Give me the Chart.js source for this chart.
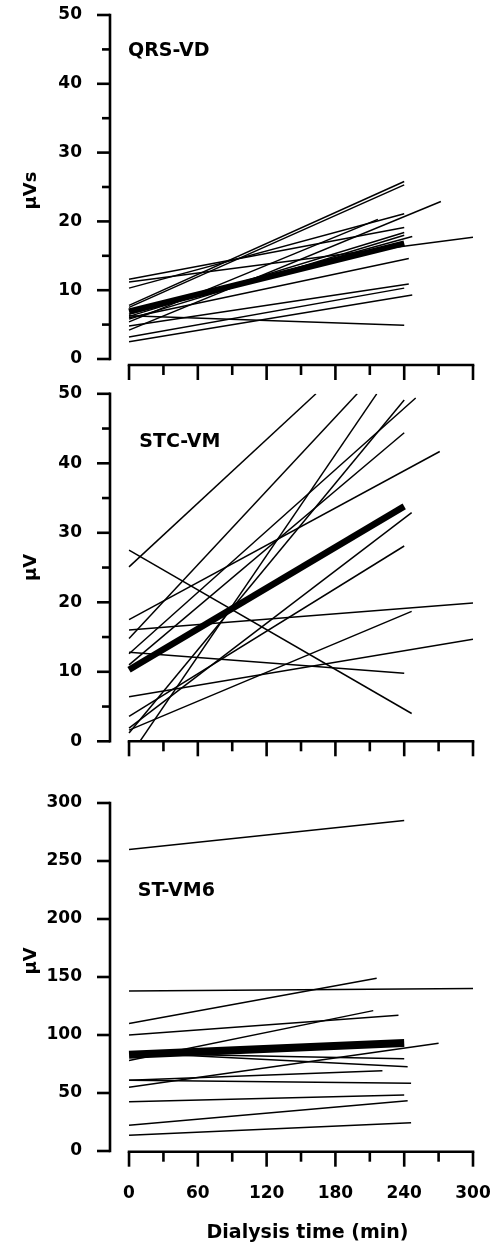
<!DOCTYPE html>
<html>
<head>
<meta charset="utf-8">
<script src="https://cdn.jsdelivr.net/npm/chart.js@4"></script>
<style>
html,body{margin:0;padding:0;background:#fff;width:497px;height:1244px;overflow:hidden;position:relative}
canvas{position:absolute;left:0}
</style>
</head>
<body>
<canvas id="c1" width="497" height="392" style="top:0px"></canvas>
<canvas id="c2" width="497" height="400" style="top:370px"></canvas>
<canvas id="c3" width="497" height="464" style="top:780px"></canvas>
<script>
// ---------- data ----------
const xTickValues = [0, 60, 120, 180, 240, 300];
const meanTimes = [0, 240];

// QRS-VD (µVs)
const qrsTicks = [0, 10, 20, 30, 40, 50];
const qrsStart   = [7.8, 7.5, 4.2, 5.4, 11.6, 11.2, 10.3, 6.2, 5.8, 6.5, 6.0, 4.8, 3.2, 2.5, 6.3];
const qrsEndTime = [240, 240, 272, 217, 240, 300, 240, 240, 240, 247, 244, 244, 240, 247, 240];
const qrsEnd     = [25.8, 25.3, 22.9, 20.3, 19.1, 17.7, 21.1, 18.4, 18.0, 17.8, 14.6, 10.9, 10.3, 9.3, 4.9];
const qrsMean    = [6.9, 16.8];

// STC-VM (µV)
const stcTicks = [0, 10, 20, 30, 40, 50];
const stcStart   = [27.5, 25.1, 17.5, 16.0, 14.8, 12.8, 12.6, 11.0, 6.4, 3.6, 1.6, 1.9, 1.2, -2.3];
const stcEndTime = [246.5, 163, 271, 300, 199, 240, 250, 240, 300, 240, 246.5, 246.5, 240, 216];
const stcEnd     = [4.0, 50, 41.7, 19.9, 50, 9.8, 49.4, 44.4, 14.7, 28.1, 18.7, 32.9, 49.1, 50];
const stcMean    = [10.3, 33.8];

// ST-VM6 (µV)
const stTicks = [0, 50, 100, 150, 200, 250, 300];
const stStart   = [260, 138, 110, 100, 78, 84, 85, 55, 61, 61, 42.5, 22.2, 13.5];
const stEndTime = [240, 300, 216, 235, 213, 240, 243, 270, 221, 246, 240, 243, 246];
const stEnd     = [285, 140, 149, 117, 121, 79.5, 72.7, 92.8, 69.2, 58.4, 48.3, 43.4, 24.4];
const stMean    = [83, 93];

// ---------- drawing ----------
const FAMILY = '"DejaVu Sans", sans-serif';

const axesPlugin = {
  id: 'axesDeco',
  afterDraw(chart, args, o) {
    const ctx = chart.ctx, ca = chart.chartArea;
    const xs = chart.scales.x, ys = chart.scales.y;
    ctx.save();
    ctx.strokeStyle = '#000';
    ctx.fillStyle = '#000';
    ctx.lineWidth = 2.6;
    ctx.lineCap = 'butt';
    const seg = (x1, y1, x2, y2) => { ctx.beginPath(); ctx.moveTo(x1, y1); ctx.lineTo(x2, y2); ctx.stroke(); };
    // y axis
    const L = ca.left;
    const yT = o.yTicks;
    seg(L, ys.getPixelForValue(yT[yT.length - 1]) - 1.3, L, ys.getPixelForValue(0) + 1.3);
    yT.forEach(v => { const p = ys.getPixelForValue(v); seg(L - 13, p, L, p); });
    if (o.yMinor) {
      for (let i = 0; i < yT.length - 1; i++) {
        const p = ys.getPixelForValue((yT[i] + yT[i + 1]) / 2);
        seg(L - 8, p, L, p);
      }
    }
    // x axis
    const by = ca.bottom + o.xOffset;
    seg(xs.getPixelForValue(xTickValues[0]) - 1.3, by, xs.getPixelForValue(xTickValues[xTickValues.length - 1]) + 1.3, by);
    xTickValues.forEach(v => { const p = xs.getPixelForValue(v); seg(p, by, p, by + 15); });
    for (let i = 0; i < xTickValues.length - 1; i++) {
      const p = xs.getPixelForValue((xTickValues[i] + xTickValues[i + 1]) / 2);
      seg(p, by, p, by + 10);
    }
    // panel label
    ctx.font = 'bold 19px ' + FAMILY;
    ctx.textAlign = 'left';
    ctx.textBaseline = 'alphabetic';
    ctx.fillText(o.label, o.labelX, o.labelY);
    // y title (rotated)
    ctx.save();
    ctx.translate(o.yTitleX, o.yTitleY);
    ctx.rotate(-Math.PI / 2);
    ctx.font = 'bold 18px ' + FAMILY;
    ctx.textAlign = 'center';
    ctx.fillText(o.yTitle, 0, 0);
    ctx.restore();
    // x title
    if (o.xTitle) {
      ctx.font = 'bold 19px ' + FAMILY;
      ctx.textAlign = 'center';
      ctx.fillText(o.xTitle, o.xTitleX, o.xTitleY);
    }
    ctx.restore();
  }
};

function buildDatasets(start, endTime, end, mean, meanWidth) {
  const common = { borderColor: '#000', backgroundColor: '#000', pointRadius: 0, fill: false, tension: 0, clip: 0 };
  const ds = [Object.assign({}, common, {
    data: [{ x: meanTimes[0], y: mean[0] }, { x: meanTimes[1], y: mean[1] }],
    borderWidth: meanWidth
  })];
  start.forEach((s, i) => {
    ds.push(Object.assign({}, common, {
      data: [{ x: 0, y: s }, { x: endTime[i], y: end[i] }],
      borderWidth: 1.5
    }));
  });
  return ds;
}

function makeChart(id, p) {
  const tickFont = { family: FAMILY, size: 17, weight: 'bold' };
  // invisible tick marks used only as spacing between axis and labels
  const spacerGrid = len => ({ display: true, drawOnChartArea: false, drawTicks: true, tickLength: len, tickColor: 'rgba(0,0,0,0)', color: 'rgba(0,0,0,0)' });
  return new Chart(document.getElementById(id), {
    type: 'line',
    data: { datasets: p.datasets },
    options: {
      responsive: false,
      animation: false,
      events: [],
      layout: { padding: { left: 0, right: 24, top: p.top, bottom: 0 } },
      plugins: {
        legend: { display: false },
        tooltip: { enabled: false },
        axesDeco: p.deco
      },
      scales: {
        x: {
          type: 'linear', min: -16.6, max: 300,
          grid: spacerGrid(32), border: { display: false },
          ticks: { display: p.showX, padding: 0, font: tickFont, color: '#000', maxRotation: 0, autoSkip: false, includeBounds: false },
          afterBuildTicks: s => { s.ticks = xTickValues.map(v => ({ value: v })); },
          afterFit: s => { s.height = p.xHeight; }
        },
        y: {
          type: 'linear', min: 0, max: p.yTicks[p.yTicks.length - 1],
          grid: spacerGrid(28), border: { display: false },
          ticks: { padding: 0, font: tickFont, color: '#000', autoSkip: false },
          afterBuildTicks: s => { s.ticks = p.yTicks.map(v => ({ value: v })); },
          afterFit: s => { s.width = 110; }
        }
      }
    },
    plugins: [axesPlugin]
  });
}

makeChart('c1', {
  datasets: buildDatasets(qrsStart, qrsEndTime, qrsEnd, qrsMean, 6),
  yTicks: qrsTicks, top: 15, xHeight: 33, showX: false,
  deco: { yTicks: qrsTicks, yMinor: true, xOffset: 6, label: 'QRS-VD', labelX: 128, labelY: 55.5,
          yTitle: '\u00B5Vs', yTitleX: 35.5, yTitleY: 190.5 }
});
makeChart('c2', {
  datasets: buildDatasets(stcStart, stcEndTime, stcEnd, stcMean, 6.5),
  yTicks: stcTicks, top: 23.8, xHeight: 28.7, showX: false,
  deco: { yTicks: stcTicks, yMinor: true, xOffset: 0, label: 'STC-VM', labelX: 139.3, labelY: 76.7,
          yTitle: '\u00B5V', yTitleX: 35.5, yTitleY: 197.5 }
});
makeChart('c3', {
  datasets: buildDatasets(stStart, stEndTime, stEnd, stMean, 8),
  yTicks: stTicks, top: 23, xHeight: 93, showX: true,
  deco: { yTicks: stTicks, yMinor: false, xOffset: 0.7, label: 'ST-VM6', labelX: 137.7, labelY: 116,
          yTitle: '\u00B5V', yTitleX: 35.5, yTitleY: 181,
          xTitle: 'Dialysis time (min)', xTitleX: 307.5, xTitleY: 458.3 }
});
</script>
</body>
</html>
